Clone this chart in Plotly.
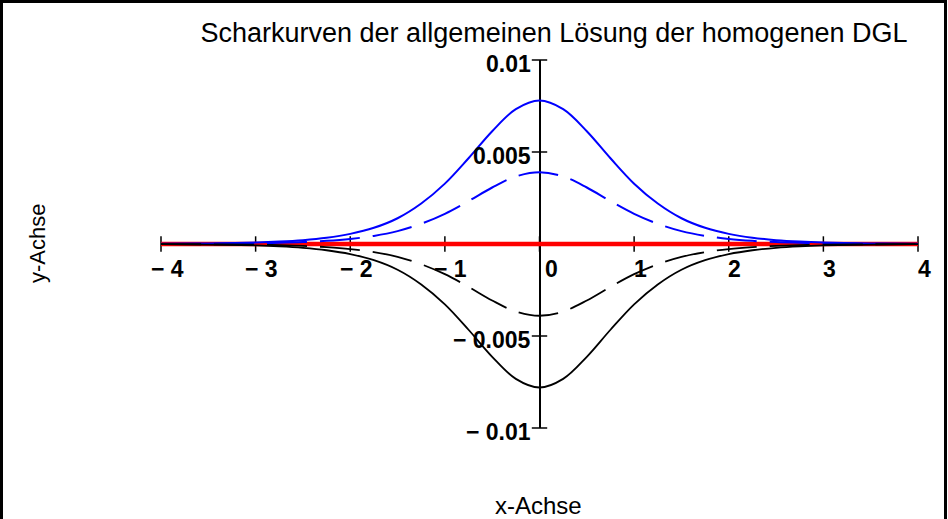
import plotly.graph_objects as go

# ---- data -------------------------------------------------------------
x_vals = [-4, -3.5, -3, -2.75, -2.5, -2.25, -2, -1.75, -1.5, -1.25, -1, -0.75, -0.5, -0.25,
          0, 0.25, 0.5, 0.75, 1, 1.25, 1.5, 1.75, 2, 2.25, 2.5, 2.75, 3, 3.5, 4]

# family members of the homogeneous solution for different constants
blue_solid = [0.00001, 0.00003, 0.00008, 0.00013, 0.00021, 0.00034, 0.00055, 0.00088, 0.0014,
              0.0022, 0.00328, 0.00466, 0.00613, 0.00733, 0.0078, 0.00733, 0.00613, 0.00466,
              0.00328, 0.0022, 0.0014, 0.00088, 0.00055, 0.00034, 0.00021, 0.00013, 0.00008,
              0.00003, 0.00001]
blue_dash = [0.000005, 0.000015, 0.00004, 0.000065, 0.000105, 0.00017, 0.000275, 0.00044,
             0.0007, 0.0011, 0.00164, 0.00233, 0.00307, 0.00367, 0.0039, 0.00367, 0.00307,
             0.00233, 0.00164, 0.0011, 0.0007, 0.00044, 0.000275, 0.00017, 0.000105,
             0.000065, 0.00004, 0.000015, 0.000005]
black_dash = [-0.000005, -0.000015, -0.00004, -0.000065, -0.000105, -0.00017, -0.000275,
              -0.00044, -0.0007, -0.0011, -0.00164, -0.00233, -0.00307, -0.00367, -0.0039,
              -0.00367, -0.00307, -0.00233, -0.00164, -0.0011, -0.0007, -0.00044, -0.000275,
              -0.00017, -0.000105, -0.000065, -0.00004, -0.000015, -0.000005]
black_solid = [-0.00001, -0.00003, -0.00008, -0.00013, -0.00021, -0.00034, -0.00055, -0.00088,
               -0.0014, -0.0022, -0.00328, -0.00466, -0.00613, -0.00733, -0.0078, -0.00733,
               -0.00613, -0.00466, -0.00328, -0.0022, -0.0014, -0.00088, -0.00055, -0.00034,
               -0.00021, -0.00013, -0.00008, -0.00003, -0.00001]
zero_line = [0.0] * len(x_vals)

x_ticks = [-4, -3, -2, -1, 0, 1, 2, 3, 4]
x_tick_text = ["\u2212 4", "\u2212 3", "\u2212 2", "\u2212 1", "0", "1", "2", "3", "4"]
y_ticks = [0.01, 0.005, -0.005, -0.01]
y_tick_text = ["0.01", "0.005", "\u2212 0.005", "\u2212 0.01"]

title_text = "Scharkurven der allgemeinen Lösung der homogenen DGL"

# ---- layout geometry ----------------------------------------------------
W, H = 948, 519
ML, MR, MT, MB = 161, 30, 60, 91
PW, PH = W - ML - MR, H - MT - MB
FONT = "Liberation Sans, Arial, Helvetica, sans-serif"


def px_to_paper_x(px):
    return (px - ML) / PW


def px_to_paper_y(py):
    return (MT + PH - py) / PH


fig = go.Figure()

# tick marks crossing the axes
fig.add_trace(go.Scatter(x=x_ticks, y=[0] * len(x_ticks), mode="markers",
                         marker=dict(symbol="line-ns-open", size=11, color="black",
                                     line=dict(color="black", width=1.5)),
                         cliponaxis=False, hoverinfo="skip", showlegend=False))
fig.add_trace(go.Scatter(x=[0] * len(y_ticks), y=y_ticks, mode="markers",
                         marker=dict(symbol="line-ew-open", size=11, color="black",
                                     line=dict(color="black", width=1.5)),
                         cliponaxis=False, hoverinfo="skip", showlegend=False))

# C = 0: trivial solution
fig.add_trace(go.Scatter(x=x_vals, y=zero_line, mode="lines",
                         line=dict(color="#ff0000", width=4.5), showlegend=False))

dash_pattern = "40px,13px"
for ys, col, dash, w in [(blue_solid, "#0000ff", "solid", 2),
                         (blue_dash, "#0000ff", dash_pattern, 2),
                         (black_dash, "black", dash_pattern, 1.8),
                         (black_solid, "black", "solid", 1.8)]:
    fig.add_trace(go.Scatter(x=x_vals, y=ys, mode="lines",
                             line=dict(color=col, width=w, dash=dash, shape="spline",
                                       smoothing=1.0),
                             showlegend=False))

annotations = []
for tv, tt in zip(x_ticks, x_tick_text):
    annotations.append(dict(x=tv, y=0, xref="x", yref="y", text=tt, showarrow=False,
                            xanchor="center", yanchor="middle",
                            xshift=12 if tv == 0 else 6, yshift=-25,
                            font=dict(family=FONT, size=23, color="black", weight="bold")))
for tv, tt in zip(y_ticks, y_tick_text):
    annotations.append(dict(x=0, y=tv, xref="x", yref="y", text=tt, showarrow=False,
                            xanchor="right", yanchor="middle", xshift=-7, yshift=-4,
                            font=dict(family=FONT, size=23, color="black", weight="bold")))

# axis titles (positions given in pixels, converted to plot-area paper units)
annotations.append(dict(x=px_to_paper_x(538), y=px_to_paper_y(505), xref="paper",
                        yref="paper", text="x-Achse", showarrow=False,
                        xanchor="center", yanchor="middle",
                        font=dict(family=FONT, size=24, color="black")))
annotations.append(dict(x=px_to_paper_x(37), y=px_to_paper_y(243), xref="paper",
                        yref="paper", text="y-Achse", showarrow=False, textangle=-90,
                        xanchor="center", yanchor="middle",
                        font=dict(family=FONT, size=22, color="black")))

# outer frame
shapes = [dict(type="rect", xref="paper", yref="paper",
               x0=px_to_paper_x(1.5), x1=px_to_paper_x(W - 2.5),
               y0=px_to_paper_y(H + 20), y1=px_to_paper_y(1.5),
               line=dict(color="black", width=3), fillcolor="rgba(0,0,0,0)",
               layer="above")]

fig.update_layout(
    width=W, height=H,
    margin=dict(l=ML, r=MR, t=MT, b=MB, pad=0),
    paper_bgcolor="white", plot_bgcolor="white",
    title=dict(text=title_text, xref="container", yref="container",
               x=554 / W, y=1 - 33 / H, xanchor="center", yanchor="middle",
               font=dict(family=FONT, size=27, color="black")),
    xaxis=dict(range=[-4, 4], showgrid=False, showticklabels=False, ticks="",
               zeroline=True, zerolinecolor="black", zerolinewidth=1.5,
               showline=False, layer="below traces", fixedrange=True),
    yaxis=dict(range=[-0.01, 0.01], showgrid=False, showticklabels=False, ticks="",
               zeroline=True, zerolinecolor="black", zerolinewidth=1.5,
               showline=False, layer="below traces", fixedrange=True),
    annotations=annotations,
    shapes=shapes,
    showlegend=False,
)

fig.write_html("out.html")
